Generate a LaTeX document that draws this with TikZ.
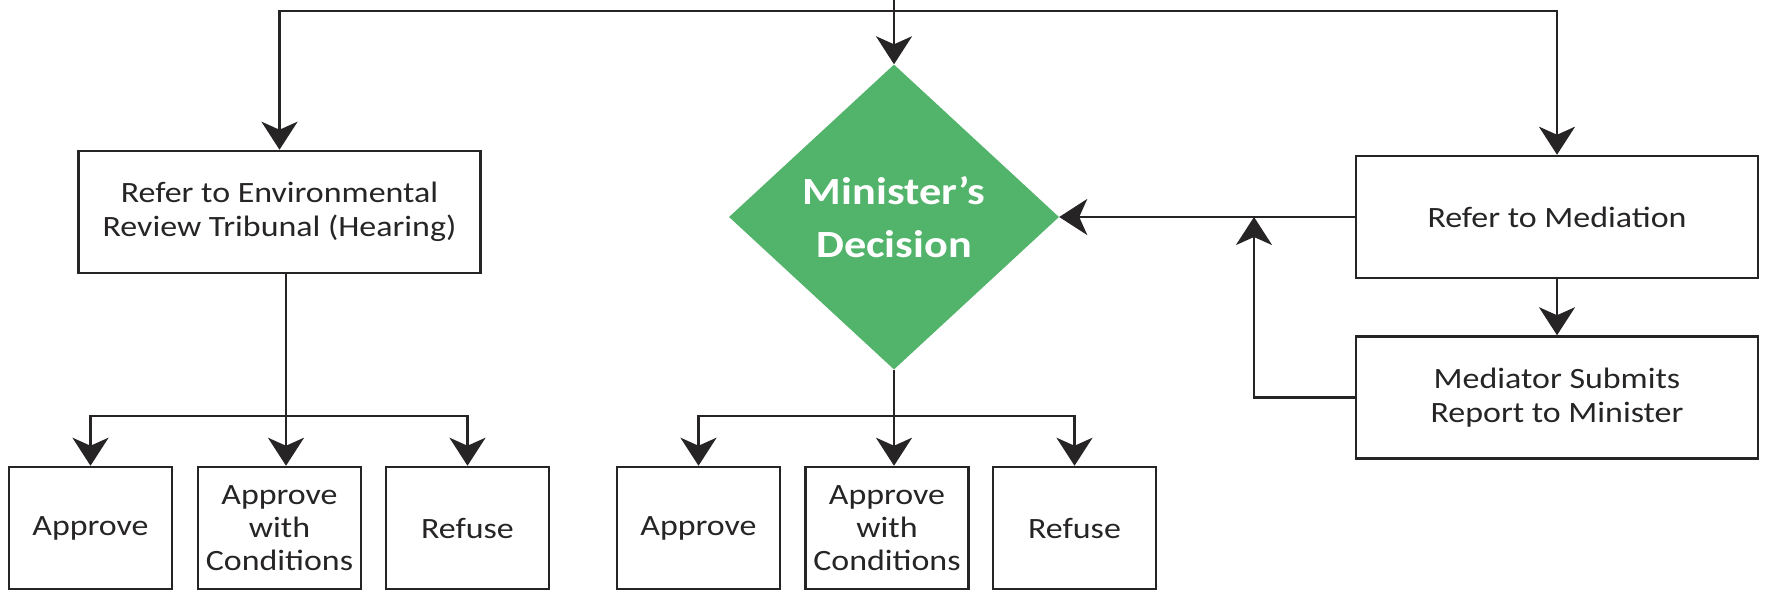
\documentclass[tikz,border=0pt]{standalone}
\usepackage{fontspec}
\setmainfont{Carlito}[FakeStretch=1.15]
\usetikzlibrary{arrows.meta,shapes.geometric}
\definecolor{decgreen}{RGB}{82,179,106}
\definecolor{ink}{RGB}{38,36,37}
\begin{document}
\begin{tikzpicture}[x=1pt,y=-1pt,
  box/.style={draw=ink, line width=2.5pt, fill=white, align=center, inner sep=0pt,
    text=ink, font=\fontsize{29.5}{34}\selectfont},
  widebox/.style={box, minimum width=402pt, minimum height=122pt},
  smallbox/.style={box, minimum width=163pt, minimum height=122pt, font=\fontsize{29.5}{33}\selectfont},
  link/.style={draw=ink, line width=2.5pt},
  arr/.style={link, -{Stealth[length=28pt,width=36pt,inset=8pt]}},
]
\useasboundingbox (0,0) rectangle (1768,591);

% main boxes
\node[widebox] (ert) at (279.5,212) {Refer to Environmental\\Review Tribunal (Hearing)};
\node[diamond, fill=decgreen, minimum width=330pt, minimum height=305pt, inner sep=0pt,
  align=center, text=white, font=\bfseries\fontsize{38.5}{53}\selectfont] (dec) at (894,217) {Minister’s\\Decision};
\node[widebox] (med) at (1557,217) {Refer to Mediation};
\node[widebox] (rep) at (1557,397.5) {Mediator Submits\\Report to Minister};

% outcome boxes
\node[smallbox] (la) at (90.5,528) {Approve};
\node[smallbox] (lc) at (279.5,528) {Approve\\with\\Conditions};
\node[smallbox] (lr) at (467.5,528) {Refuse};
\node[smallbox] (ra) at (698.5,528) {Approve};
\node[smallbox] (rc) at (887,528) {Approve\\with\\Conditions};
\node[smallbox] (rr) at (1074.5,528) {Refuse};

% incoming referral and distribution bus
\coordinate (top) at (894,0);
\coordinate (bus) at (894,11);
\draw[link] (top) -- (bus);
\draw[arr] (bus) -- (dec.north);
\draw[arr] (bus) -| (ert.north);
\draw[arr] (bus) -| (med.north);

% mediation loop
\draw[arr] (med.west) -- (dec.east);
\draw[arr] (med.south) -- (rep.north);
\coordinate (fb) at (1254,217);
\draw[arr] (rep.west) -| (fb);

% tribunal outcomes
\coordinate (lj) at (286,416);
\draw[link] (lj |- ert.south) -- (lj);
\draw[arr] (lj) -| (la.north);
\draw[arr] (lj) -- (lj |- lc.north);
\draw[arr] (lj) -| (lr.north);

% minister outcomes
\coordinate (rj) at (dec.south |- 0,416);
\draw[link] (dec.south) -- (rj);
\draw[arr] (rj) -| (ra.north);
\draw[arr] (rj) -- (rj |- rc.north);
\draw[arr] (rj) -| (rr.north);
\end{tikzpicture}
\end{document}
